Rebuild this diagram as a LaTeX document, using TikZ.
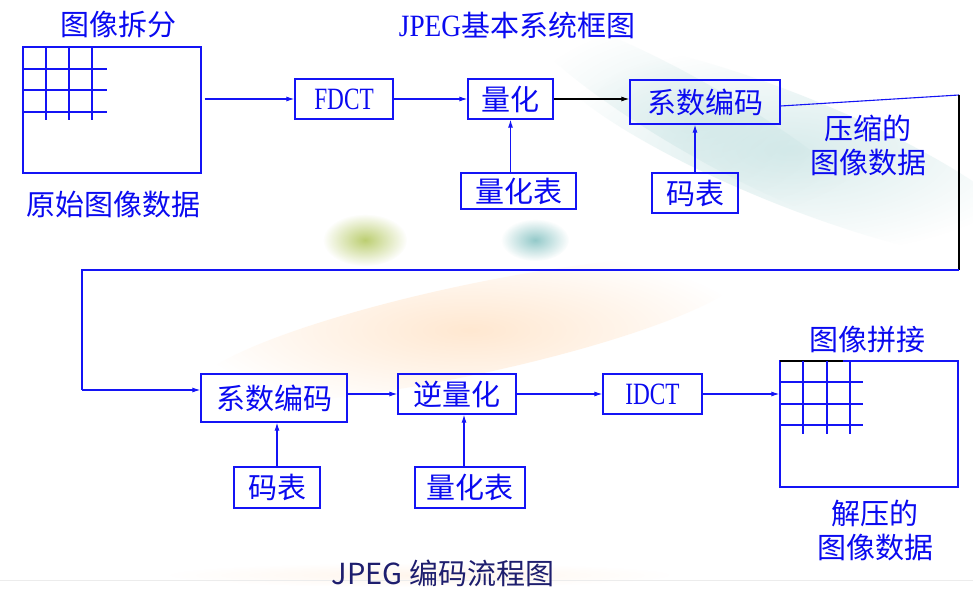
\documentclass[tikz,border=0pt]{standalone}
\usepackage{fontspec}
\usepackage{graphicx}
\setmainfont{Noto Sans CJK SC}
\newfontfamily\lat{Liberation Serif}
\usetikzlibrary{arrows.meta,fadings}
\tikzfading[name=softblob, inner color=transparent!0, outer color=transparent!100]
\definecolor{lineblue}{RGB}{20,20,245}
\definecolor{txtblue}{RGB}{10,10,240}
\definecolor{navy}{RGB}{30,30,110}
\tikzset{
  box/.style={draw=lineblue, line width=1.3pt, inner sep=0pt, text=txtblue, font=\fontsize{29}{32}\selectfont},
  conn/.style={draw=lineblue, line width=1.1pt, -{Latex[length=8pt,width=5pt]}},
  lbl/.style={text=txtblue, font=\fontsize{29}{34}\selectfont, align=center, inner sep=0pt},
  grid/.style={draw=lineblue, line width=1.1pt},
}
\newcommand{\latn}[2][0.75]{{\lat\fontsize{31}{34}\selectfont\scalebox{#1}[1]{#2}}}
\begin{document}
\begin{tikzpicture}[x=1pt,y=-1pt]
\useasboundingbox (0,0) rectangle (973,591);
% background decoration
\fill[white] (0,0) rectangle (973,591);
\fill[teal!30, path fading=softblob, opacity=0.5, rotate around={-22:(790,150)}] (790,150) ellipse (260 and 55);
\fill[teal!25, path fading=softblob, opacity=0.45, rotate around={-30:(700,120)}] (700,120) ellipse (200 and 35);
\fill[orange!40, path fading=softblob, opacity=0.45, rotate around={12:(470,330)}] (470,330) ellipse (280 and 45);
\fill[yellow!70!green!80!black, path fading=softblob, opacity=0.7] (365,240) ellipse (42 and 26);
\fill[teal!70, path fading=softblob, opacity=0.6] (535,240) ellipse (34 and 21);
\fill[orange!15, path fading=softblob, opacity=0.5] (420,575) ellipse (250 and 12);
\draw[gray!15, line width=0.8pt] (0,580) -- (973,580);

% titles
\node[lbl] (title) at (517,25) {\latn[0.88]{JPEG}基本系统框图};
\node[lbl, text=navy] (caption) at (443,573) {JPEG 编码流程图};

% source image
\node[draw=lineblue, line width=1.3pt, minimum width=178pt, minimum height=126pt, inner sep=0pt] (img1) at (112,110) {};
\foreach \x in {46,69,92} \draw[grid] (\x,47) -- (\x,120);
\draw[grid, line width=1.8pt] (23,69) -- (107,69);
\foreach \y in {90,112} \draw[grid] (23,\y) -- (107,\y);
\node[lbl] (split) at (118,25) {图像拆分};
\node[lbl] (orig) at (113,205) {原始图像数据};

% top row
\node[box, minimum width=98pt, minimum height=40pt] (fdct) at (344,99) {\latn{FDCT}};
\node[box, minimum width=85pt, minimum height=40pt] (quant) at (510.5,99) {量化};
\node[box, minimum width=150pt, minimum height=44pt] (enc1) at (705,102) {系数编码};
\node[box, minimum width=115pt, minimum height=36pt] (qtab1) at (518.5,191) {量化表};
\node[box, minimum width=86pt, minimum height=40pt] (ctab1) at (695,193) {码表};
\node[lbl] (comp) at (868,145) {压缩的\\图像数据};

\draw[conn] ([xshift=3pt]img1.east |- fdct.west) -- (fdct.west);
\draw[conn] (fdct.east) -- (quant.west);
\draw[conn, draw=black] (quant.east) -- (quant.east -| enc1.west);
\draw[conn] (quant.south |- qtab1.north) -- (quant.south);
\draw[conn] (ctab1.north) -- (ctab1.north |- enc1.south);

% return path
\coordinate (r1) at (959,95);
\coordinate (r2) at (959,270);
\coordinate (l1) at (82,270);
\coordinate (l2) at (82,390);
\draw[draw=lineblue, line width=1.1pt] ([yshift=-4pt]enc1.east) -- (r1);
\draw[black, line width=1.8pt] (r1) -- (r2);
\draw[lineblue, line width=2.2pt] (r2) -- (l1) -- (l2);

% bottom row
\node[box, minimum width=146pt, minimum height=48pt] (enc2) at (274,398) {系数编码};
\node[box, minimum width=118pt, minimum height=40pt] (deq) at (457,394) {逆量化};
\node[box, minimum width=86pt, minimum height=41pt] (ctab2) at (277,487.5) {码表};
\node[box, minimum width=110pt, minimum height=41pt] (qtab2) at (470,487.5) {量化表};
\node[box, minimum width=99pt, minimum height=40pt] (idct) at (652.5,394) {\latn{IDCT}};

\draw[conn] (l2) -- (l2 -| enc2.west);
\draw[conn] (enc2.east |- deq.west) -- (deq.west);
\draw[conn] (ctab2.north) -- (ctab2.north |- enc2.south);
\draw[conn] ([xshift=-6pt]qtab2.north) -- ([xshift=-6pt]qtab2.north |- deq.south);
\draw[conn] (deq.east) -- (idct.west);

% reconstructed image
\node[draw=lineblue, line width=1.3pt, minimum width=178pt, minimum height=126pt, inner sep=0pt] (img2) at (869,424) {};
\draw[conn] (idct.east) -- (idct.east -| img2.west);
\draw[black, line width=1.8pt] (780,361) -- (843,361);
\foreach \x in {803,827} \draw[grid] (\x,361) -- (\x,434);
\draw[grid, line width=1.8pt] (850,361) -- (850,434);
\foreach \y in {382,404,425} \draw[grid] (780,\y) -- (863,\y);
\node[lbl] (merge) at (867,340) {图像拼接};
\node[lbl] (decomp) at (875,530) {解压的\\图像数据};
\end{tikzpicture}
\end{document}
